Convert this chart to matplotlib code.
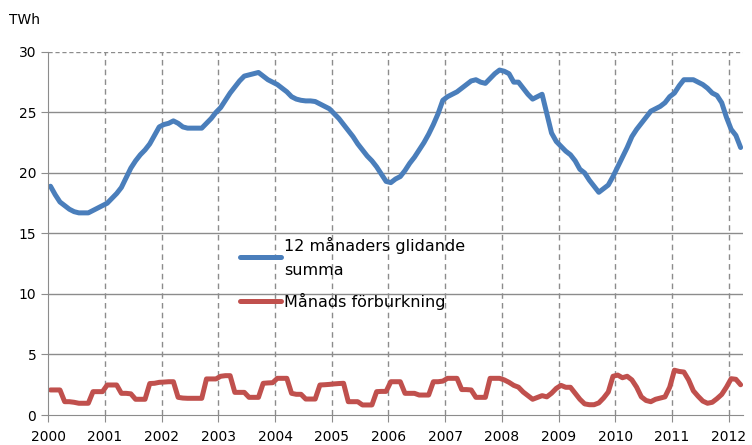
import numpy as np
from matplotlib import pyplot as plt

# monthly values, Jan 2000 - Mar 2012 (TWh)
glidande = [
    18.9, 18.2, 17.6, 17.3, 17.0, 16.8, 16.7, 16.7, 16.7, 16.9, 17.1, 17.3,  # 2000
    17.5, 17.9, 18.3, 18.8, 19.6, 20.4, 21.0, 21.5, 21.9, 22.4, 23.1, 23.8,  # 2001
    24.0, 24.1, 24.3, 24.1, 23.8, 23.7, 23.7, 23.7, 23.7, 24.1, 24.5, 25.0,  # 2002
    25.4, 26.0, 26.6, 27.1, 27.6, 28.0, 28.1, 28.2, 28.3, 28.0, 27.7, 27.5,  # 2003
    27.3, 27.0, 26.7, 26.3, 26.1, 26.0, 25.95, 25.95, 25.9, 25.7, 25.5, 25.3,  # 2004
    24.9, 24.5, 24.0, 23.5, 23.0, 22.4, 21.9, 21.4, 21.0, 20.5, 19.9, 19.3,  # 2005
    19.2, 19.5, 19.7, 20.2, 20.8, 21.3, 21.9, 22.5, 23.2, 24.0, 24.9, 26.0,  # 2006
    26.3, 26.5, 26.7, 27.0, 27.3, 27.6, 27.7, 27.5, 27.4, 27.8, 28.2, 28.5,  # 2007
    28.4, 28.2, 27.5, 27.5, 27.0, 26.5, 26.1, 26.3, 26.5, 24.9, 23.3, 22.6,  # 2008
    22.2, 21.8, 21.5, 21.0, 20.3, 20.0, 19.4, 18.9, 18.4, 18.7, 19.0, 19.7,  # 2009
    20.5, 21.3, 22.1, 23.0, 23.6, 24.1, 24.6, 25.1, 25.3, 25.5, 25.8, 26.3,  # 2010
    26.6, 27.2, 27.7, 27.7, 27.7, 27.5, 27.3, 27.0, 26.6, 26.4, 25.8, 24.6,  # 2011
    23.6, 23.1, 22.1,  # 2012
]
manad = [
    2.07, 2.07, 2.07, 1.1, 1.1, 1.05, 0.97, 0.97, 0.97, 1.93, 1.93, 1.93,  # 2000
    2.48, 2.48, 2.48, 1.79, 1.79, 1.75, 1.3, 1.3, 1.3, 2.6, 2.62, 2.7,  # 2001
    2.72, 2.75, 2.75, 1.46, 1.4, 1.38, 1.38, 1.38, 1.38, 2.98, 2.98, 2.98,  # 2002
    3.2, 3.25, 3.25, 1.87, 1.87, 1.87, 1.46, 1.46, 1.46, 2.62, 2.65, 2.67,  # 2003
    3.03, 3.03, 3.03, 1.79, 1.71, 1.71, 1.32, 1.32, 1.32, 2.48, 2.5, 2.53,  # 2004
    2.57, 2.6, 2.62, 1.1, 1.1, 1.1, 0.83, 0.83, 0.83, 1.93, 1.95, 1.95,  # 2005
    2.75, 2.75, 2.75, 1.79, 1.79, 1.79, 1.65, 1.65, 1.65, 2.75, 2.75, 2.8,  # 2006
    3.03, 3.03, 3.03, 2.1, 2.1, 2.07, 1.46, 1.46, 1.46, 3.03, 3.03, 3.03,  # 2007
    2.9, 2.7, 2.45, 2.3, 1.9, 1.6, 1.3, 1.45, 1.6, 1.5, 1.8, 2.2,  # 2008
    2.45, 2.29, 2.29, 1.8, 1.3, 0.92, 0.85, 0.85, 1.0, 1.4, 1.9, 3.2,  # 2009
    3.3, 3.08, 3.2, 2.9, 2.3, 1.5, 1.2, 1.1, 1.3, 1.4, 1.5, 2.3,  # 2010
    3.7, 3.6, 3.55, 2.9, 2.0, 1.55, 1.15, 0.97, 1.05, 1.35, 1.7, 2.3,  # 2011
    3.0, 2.95, 2.5,  # 2012
]
years = [str(y) for y in range(2000, 2013)]
label_blue = "12 månaders glidande\nsumma"
label_red = "Månads förburkning"

x = np.arange(len(glidande)) + 0.5

fig = plt.figure(figsize=(7.52, 4.45), dpi=100)
ax = fig.add_axes([0.064, 0.0674, 0.924, 0.816])

ax.plot(x, glidande, color='#4a7ebb', lw=3.6, solid_capstyle='round', label=label_blue)
ax.plot(x, manad, color='#c0504d', lw=3.6, solid_capstyle='round', label=label_red)

ax.set_xlim(0, len(glidande))
ax.set_ylim(0, 30)
ax.set_yticks(range(0, 31, 5))
ax.set_xticks(range(0, 12 * len(years), 12))
ax.set_xticklabels(years)

# grid: solid horizontal, dashed vertical
for v in range(5, 30, 5):
    ax.axhline(v, color='#8c8c8c', lw=1, zorder=0)
ax.axhline(30, color='#8c8c8c', lw=1, ls=(0, (3, 2)), zorder=0)
for t in range(12, 12 * len(years), 12):
    ax.axvline(t, color='#8c8c8c', lw=1, ls=(0, (4, 3)), zorder=0)

for s in ['top', 'right']:
    ax.spines[s].set_visible(False)
for s in ['left', 'bottom']:
    ax.spines[s].set_color('#8c8c8c')
ax.tick_params(axis='both', colors='#8c8c8c', labelcolor='black', labelsize=10,
               direction='out', length=5)
ax.tick_params(axis='x', pad=6)

fig.text(0.012, 0.955, "TWh", fontsize=10, va='center')

leg = ax.legend(loc='upper left', bbox_to_anchor=(0.255, 0.531), frameon=False,
                fontsize=11.5, handlelength=2.6, handletextpad=0.2, labelspacing=0.95)
for t in leg.get_texts():
    t.set_linespacing(1.75)

fig.savefig("out.png", dpi=100)
